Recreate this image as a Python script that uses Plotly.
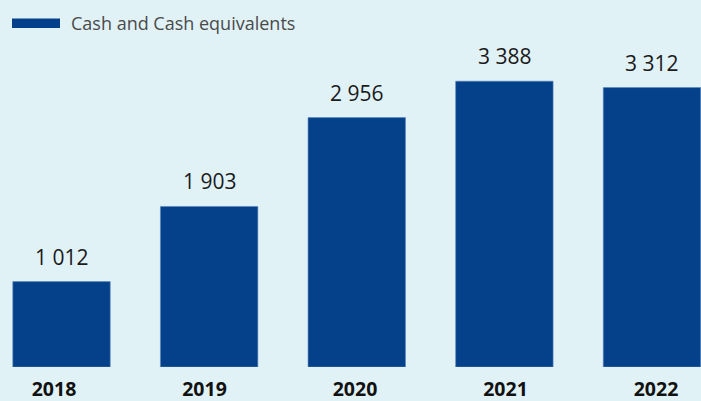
import plotly.graph_objects as go

years = ["2018", "2019", "2020", "2021", "2022"]
cash = [1012, 1903, 2956, 3388, 3312]
series_name = "Cash and Cash equivalents"

BAR = "#04418a"
BG = "#e1f2f7"

fig = go.Figure()
fig.add_trace(go.Bar(
    x=years, y=cash, name=series_name,
    marker=dict(color=BAR, line=dict(color="#5b86bd", width=0.6)),
    showlegend=False, hoverinfo="skip",
))
# carrier for the year labels axis (invisible)
fig.add_trace(go.Scatter(
    x=years, y=cash, xaxis="x2", mode="markers",
    marker=dict(opacity=0), showlegend=False, hoverinfo="skip",
))

for i, v in enumerate(cash):
    fig.add_annotation(
        x=i, y=v, text=f"{v:,}".replace(",", " "),
        showarrow=False, yanchor="bottom", yshift=9,
        font=dict(family="Open Sans", size=21, color="#1a1a1a"),
    )

# legend
fig.add_shape(type="rect", xref="paper", yref="paper",
              x0=12/701, x1=60/701, y0=1-28/367, y1=1-18.5/367,
              fillcolor=BAR, line=dict(width=0), layer="above")
fig.add_annotation(xref="paper", yref="paper", x=69/701, y=1-23/367,
                   text=series_name, showarrow=False, xanchor="left", yanchor="middle",
                   font=dict(family="Open Sans", size=18, color="#4a4a4a"))

fig.update_layout(
    width=701, height=401,
    margin=dict(l=0, r=0, t=0, b=34, autoexpand=False),
    paper_bgcolor=BG, plot_bgcolor=BG,
    bargap=0.34,
    xaxis=dict(type="category", range=[-0.4167, 4.332], showgrid=False, zeroline=False,
               showline=False, ticks="", showticklabels=False, automargin=False),
    xaxis2=dict(type="category", overlaying="x", side="bottom", automargin=False,
                range=[-0.3588, 4.299], showgrid=False, zeroline=False,
                showline=False, ticks="", ticklabelstandoff=8,
                tickfont=dict(family="Open Sans", size=19.5, color="#111111", weight="bold")),
    yaxis=dict(range=[0, 4350], visible=False, automargin=False),
)

fig.write_html("out.html", config={"displayModeBar": False},
               post_script="document.body.style.margin='0';document.body.style.background='%s';" % BG)
